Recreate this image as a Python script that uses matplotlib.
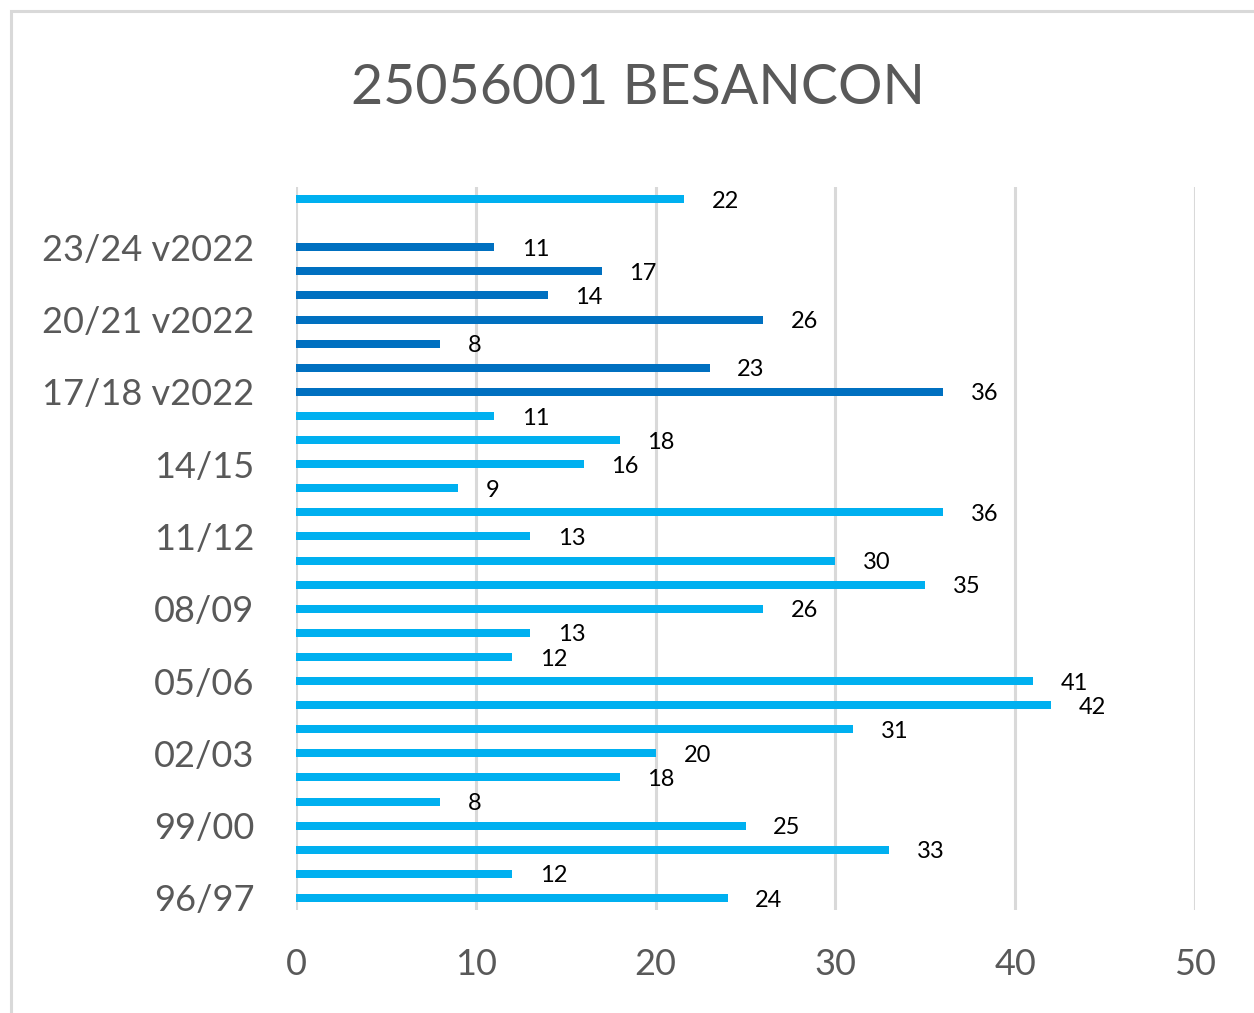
import matplotlib.pyplot as plt
from matplotlib.patches import Rectangle

# seasons, bottom to top (one empty slot before the last bar)
seasons = ['96/97', '97/98', '98/99', '99/00', '00/01', '01/02', '02/03',
           '03/04', '04/05', '05/06', '06/07', '07/08', '08/09', '09/10',
           '10/11', '11/12', '12/13', '13/14', '14/15', '15/16', '16/17',
           '17/18 v2022', '18/19 v2022', '19/20 v2022', '20/21 v2022',
           '21/22 v2022', '22/23 v2022', '23/24 v2022', '24/25 v2022',
           '24/25']
values = [24, 12, 33, 25, 8, 18, 20, 31, 42, 41, 12, 13, 26, 35, 30, 13,
          36, 9, 16, 18, 11, 36, 23, 8, 26, 14, 17, 11, None, 21.6]
is_v2022 = [s.endswith('v2022') for s in seasons]

LIGHT = '#00B0F0'
DARK = '#0070C0'
GREY = '#595959'
GRID = '#D9D9D9'

plt.rcParams['font.family'] = ['Lato', 'DejaVu Sans']

fig = plt.figure(figsize=(12.54, 10.13), dpi=100)
ax = fig.add_axes([296 / 1254, 1 - 910 / 1013, 899 / 1254, 723 / 1013])

pos = [i for i, v in enumerate(values) if v is not None]
vals = [values[i] for i in pos]
colors = [DARK if is_v2022[i] else LIGHT for i in pos]
ax.barh(pos, vals, height=0.33, color=colors, zorder=3)
for p, v in zip(pos, vals):
    ax.annotate(f'{v:.0f}', (v, p), xytext=(20, -1.5), textcoords='offset points',
                ha='left', va='center', fontsize=17, color='black')

ax.set_xlim(0, 50)
ax.set_ylim(-0.5, len(seasons) - 0.5)
ax.set_xticks(range(0, 51, 10))
ax.set_yticks(range(0, len(seasons), 3))
ax.set_yticklabels(seasons[::3])
ax.tick_params(axis='both', length=0, colors=GREY)
ax.tick_params(axis='x', pad=27, labelsize=26)
ax.tick_params(axis='y', pad=30, labelsize=26)
ax.xaxis.grid(True, color=GRID, linewidth=2.2, zorder=0)
for s in ax.spines.values():
    s.set_visible(False)

fig.text(638 / 1254, 1 - 89 / 1013, '25056001 BESANCON', ha='center', va='center',
         fontsize=40, color=GREY)

# chart frame
fig.patches.append(Rectangle((11 / 1254, -0.1), 1.2, 1 - 11 / 1013 + 0.1,
                             transform=fig.transFigure, fill=False,
                             edgecolor=GRID, linewidth=2.2))

fig.savefig('out.png', dpi=100)
